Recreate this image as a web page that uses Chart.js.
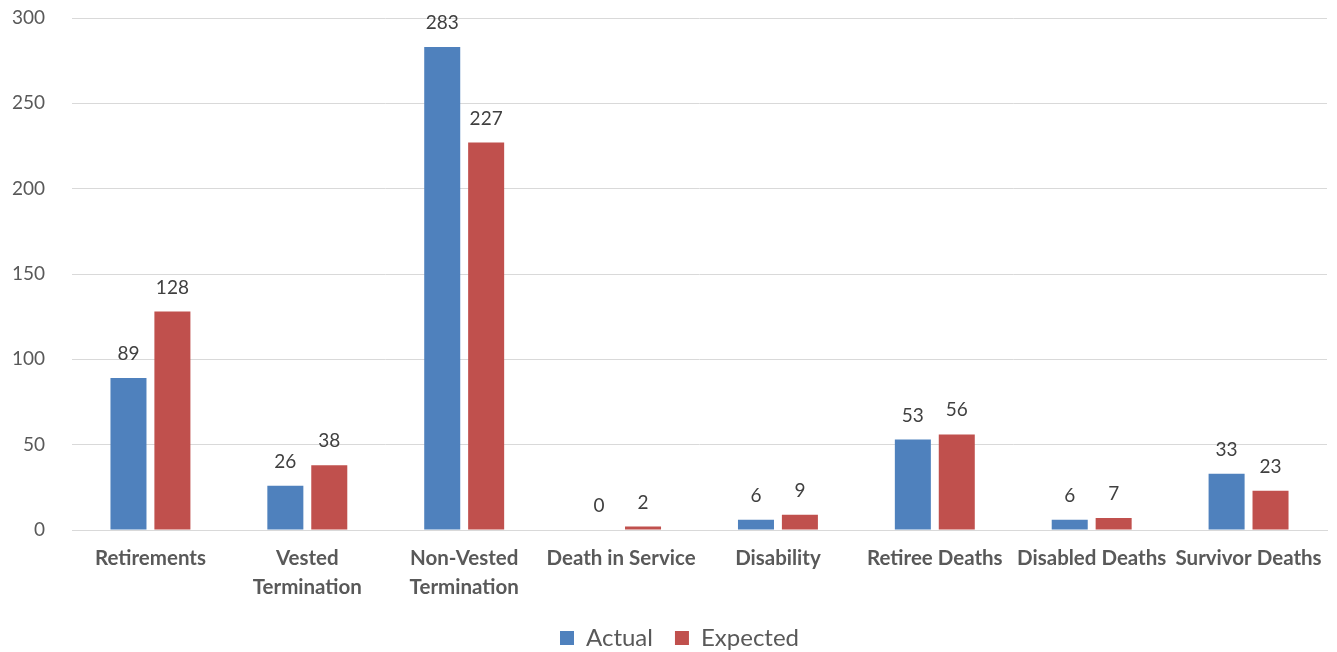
<!DOCTYPE html>
<html>
<head>
<meta charset="utf-8">
<script src="https://cdn.jsdelivr.net/npm/chart.js@4"></script>
<style>
  html, body { margin: 0; padding: 0; background: #fff; }
  #wrap { width: 1337px; height: 652px; }
</style>
</head>
<body>
<div id="wrap"><canvas id="c" width="1337" height="652"></canvas></div>
<script>
const categories = [
  "Retirements",
  ["Vested", "Termination"],
  ["Non-Vested", "Termination"],
  "Death in Service",
  "Disability",
  "Retiree Deaths",
  "Disabled Deaths",
  "Survivor Deaths"
];
const actualValues = [89, 26, 283, 0, 6, 53, 6, 33];
const expectedValues = [128, 38, 227, 2, 9, 56, 7, 23];
const yTicks = [0, 50, 100, 150, 200, 250, 300];

const FONT = "Lato, 'Open Sans', 'Liberation Sans', sans-serif";

// Print each bar's value just above it
const valueLabels = {
  id: 'valueLabels',
  afterDatasetsDraw(chart) {
    const ctx = chart.ctx;
    ctx.save();
    ctx.font = '19px ' + FONT;
    ctx.fillStyle = '#404040';
    ctx.textAlign = 'center';
    ctx.textBaseline = 'alphabetic';
    chart.data.datasets.forEach((ds, i) => {
      chart.getDatasetMeta(i).data.forEach((bar, j) => {
        ctx.fillText(String(ds.data[j]), bar.x, bar.y - 18);
      });
    });
    ctx.restore();
  }
};

// Nudge the legend a little to the right of the canvas centre
const legendShift = {
  id: 'legendShift',
  afterLayout(chart) {
    const lg = chart.legend;
    if (lg) { lg.left += 16; lg.right += 16; }
  }
};

new Chart(document.getElementById('c'), {
  type: 'bar',
  data: {
    labels: categories,
    datasets: [
      { label: 'Actual', data: actualValues, backgroundColor: '#4F81BD',
        categoryPercentage: 0.56, barPercentage: 0.82 },
      { label: 'Expected', data: expectedValues, backgroundColor: '#C0504D',
        categoryPercentage: 0.56, barPercentage: 0.82 }
    ]
  },
  options: {
    responsive: false,
    animation: false,
    layout: { padding: { top: 0, right: 10, left: 0, bottom: -8 } },
    plugins: {
      legend: {
        position: 'bottom',
        labels: {
          boxWidth: 14, boxHeight: 14, padding: 22,
          color: '#595959',
          font: { family: FONT, size: 24 }
        }
      },
      tooltip: { enabled: false }
    },
    scales: {
      x: {
        grid: { display: false },
        border: { color: '#d9d9d9', width: 1 },
        ticks: {
          color: '#595959',
          maxRotation: 0,
          autoSkip: false,
          padding: 6,
          font: { family: FONT, size: 20.5, weight: 'bold', lineHeight: 1.4 }
        },
        afterFit(scale) { scale.height = 74; }
      },
      y: {
        min: 0, max: 300,
        afterBuildTicks(scale) { scale.ticks = yTicks.map(v => ({ value: v })); },
        grid: { color: '#d9d9d9', drawTicks: false },
        border: { display: false },
        ticks: {
          color: '#595959',
          padding: 27,
          font: { family: FONT, size: 19 }
        },
        afterFit(scale) {
          scale.width = 72;
          scale.paddingTop = 18;
          scale.paddingBottom = 0;
        }
      }
    }
  },
  plugins: [valueLabels, legendShift]
});
</script>
</body>
</html>
